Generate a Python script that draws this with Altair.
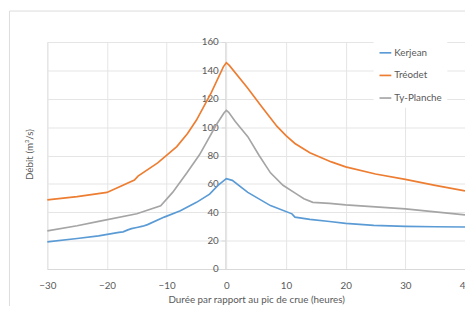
import altair as alt
import pandas as pd

# Kerjean
t_kerjean = [-30, -25, -21.4, -18, -17.3, -16.5, -15.9, -15, -14, -13.2, -10.4, -7.7, -5, -2.8, -1.4, 0, 1, 3.6, 7.4, 11, 11.5, 14, 17.3, 20, 24.7, 30, 35, 40]
q_kerjean = [19.2, 21.5, 23.4, 25.8, 26.2, 27.6, 28.5, 29.3, 30.2, 31.3, 36.6, 41, 47, 52.8, 59, 63.7, 62.5, 54, 44.7, 38.9, 36.6, 35, 33.5, 32.2, 30.8, 30.1, 29.8, 29.6]
# Tréodet
t_treodet = [-30, -25, -20, -15.4, -14.8, -11.5, -8.3, -6.5, -5, -2.5, -0.5, 0, 0.5, 3.5, 6, 8.5, 10, 11.5, 14, 17.6, 20, 25, 30, 35, 40]
q_treodet = [48.8, 51, 54, 62.7, 65.5, 74.8, 86.3, 95.5, 105, 124.5, 142.5, 145.4, 143.5, 128, 114, 100.5, 94, 88.5, 82, 75.5, 72, 67, 63.2, 59, 55.1]
# Ty-Planche
t_typlanche = [-30, -25, -21.4, -15, -11, -9, -6.6, -4.5, -3.3, -1.7, -0.4, 0, 0.4, 1.5, 3.6, 5.5, 7.4, 9.5, 11.8, 13, 14.5, 17.3, 20, 25, 30, 35, 40]
q_typlanche = [26.9, 30.5, 33.6, 39, 44.5, 54, 67.8, 80.5, 89.5, 101.5, 110, 111.8, 110.5, 104, 93.3, 80, 67.8, 59, 52.8, 49.5, 47, 46.3, 45.2, 43.8, 42.4, 40.3, 38.2]

series_names = ["Kerjean", "Tréodet", "Ty-Planche"]
series_colors = ["#5B9BD5", "#ED7D31", "#A5A5A5"]
x_ticks = [-30, -20, -10, 0, 10, 20, 30, 40]
y_ticks = [0, 20, 40, 60, 80, 100, 120, 140, 160]

rows = []
for name, ts, qs in zip(series_names, [t_kerjean, t_treodet, t_typlanche], [q_kerjean, q_treodet, q_typlanche]):
    for i, (t, q) in enumerate(zip(ts, qs)):
        rows.append({"station": name, "t": t, "q": q, "order": i})
df = pd.DataFrame(rows)

grey_txt = "#595959"
grid_c = "#E4E4E4"
FONT = "Lato"

lines = alt.Chart(df).mark_line(strokeWidth=1.7, interpolate="linear").encode(
    x=alt.X("t:Q",
            scale=alt.Scale(domain=[-30, 40], nice=False, zero=False),
            axis=alt.Axis(values=x_ticks, grid=True, gridColor=grid_c, domainColor="#D9D9D9",
                          ticks=False, labelPadding=12, labelFontSize=10, labelColor=grey_txt,
                          labelFont=FONT, title="Durée par rapport au pic de crue (heures)",
                          titleFont=FONT, titleFontSize=10, titleFontWeight="normal",
                          titleColor=grey_txt, titlePadding=4, labelFlush=False)),
    y=alt.Y("q:Q",
            scale=alt.Scale(domain=[0, 160], nice=False),
            axis=alt.Axis(values=y_ticks, grid=True, gridColor=grid_c, offset=-181,
                          domainColor="#D9D9D9", tickColor="#D9D9D9", tickSize=4,
                          labelPadding=3, labelFontSize=10, labelColor=grey_txt, labelFont=FONT,
                          title="Débit (m³/s)", titleFont=FONT, titleFontSize=10,
                          titleFontWeight="normal", titleColor=grey_txt, titleAngle=-90,
                          titleX=-199, titleY=114, titleAlign="center", titleBaseline="middle")),
    color=alt.Color("station:N",
                    scale=alt.Scale(domain=series_names, range=series_colors),
                    legend=alt.Legend(title=None, orient="none", legendX=332, legendY=-1,
                                      symbolType="stroke", symbolSize=144, symbolStrokeWidth=1.7,
                                      labelFontSize=10, labelFont=FONT, labelColor=grey_txt,
                                      rowPadding=11, padding=5, fillColor="white",
                                      labelOffset=2)),
    order="order:Q",
)

border = alt.Chart(pd.DataFrame({"k": [0]})).mark_rect(
    fill=None, stroke="#DCDCDC", strokeWidth=1, clip=False
).encode(x=alt.value(-38.5), x2=alt.value(470), y=alt.value(-31.5), y2=alt.value(300))

chart = alt.layer(border, lines).properties(
    width=425, height=231,
    title=alt.TitleParams("Hydrogramme synthétique centennal aux trois stations hydrométriques",
                          font=FONT, fontSize=12, fontWeight="normal", color=grey_txt,
                          anchor="middle", offset=9, dx=-12),
    autosize=alt.AutoSizeParams(type="none"),
    padding={"left": 40, "top": 32, "right": 0, "bottom": 35},
).configure_view(stroke=None).configure(background="white")

chart.save("out.html", embed_options={"renderer": "svg", "actions": False})
